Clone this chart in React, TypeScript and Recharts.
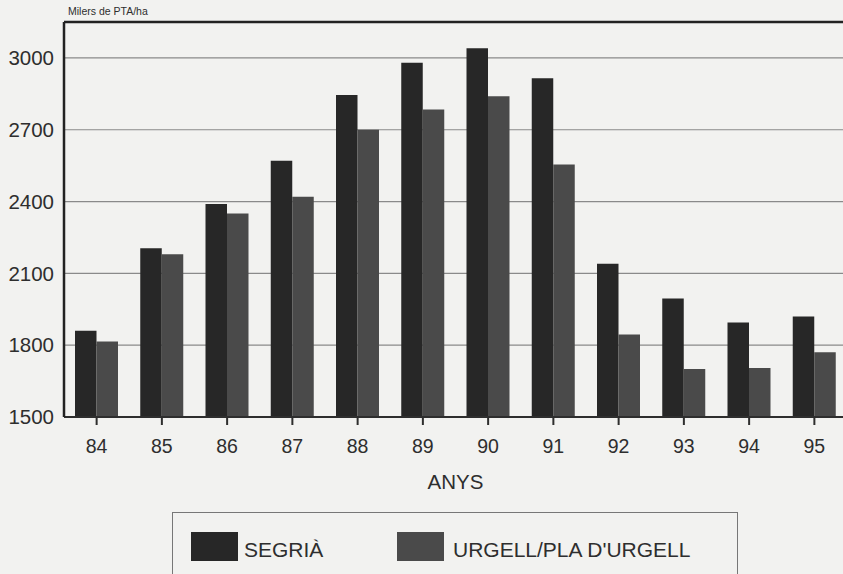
import React from "react";
import {
  BarChart,
  Bar,
  XAxis,
  YAxis,
  CartesianGrid,
  ReferenceLine,
} from "recharts";

// years (ANYS) and values in milers de PTA/ha
const years = ["84", "85", "86", "87", "88", "89", "90", "91", "92", "93", "94", "95"];
const segria = [1860, 2205, 2390, 2570, 2845, 2980, 3040, 2915, 2140, 1995, 1895, 1920];
const urgell = [1815, 2180, 2350, 2420, 2700, 2785, 2840, 2555, 1845, 1700, 1705, 1770];
const yTicks = [1500, 1800, 2100, 2400, 2700, 3000];

const data = years.map((year, i) => ({ year, segria: segria[i], urgell: urgell[i] }));

const FONT = '"Liberation Sans", Arial, Helvetica, sans-serif';
const DARK = "#272727";
const MID = "#4a4a4a";
const INK = "#2e2e2e";

export default function App() {
  return (
    <div
      style={{
        position: "absolute",
        left: 0,
        top: 0,
        width: 843,
        height: 574,
        overflow: "hidden",
        background: "#f2f2f0",
        fontFamily: FONT,
      }}
    >
      <BarChart
        width={850}
        height={574}
        data={data}
        margin={{ top: 22, right: 3, left: 0, bottom: 77 }}
        barGap={0}
        style={{ fontFamily: FONT }}
      >
        <CartesianGrid vertical={false} stroke="#8a8a8a" strokeWidth={1.2} />
        <XAxis
          dataKey="year"
          height={80}
          tickSize={8}
          tickMargin={14}
          tickLine={{ stroke: INK, strokeWidth: 2 }}
          axisLine={{ stroke: INK, strokeWidth: 2 }}
          tick={{ fill: INK, fontSize: 19.5 }}
          label={{ value: "ANYS", position: "insideBottom", offset: 8, fill: INK, fontSize: 20.5 }}
        />
        <YAxis
          width={64}
          domain={[1500, 3150]}
          ticks={yTicks}
          interval={0}
          tickSize={0}
          tickMargin={10}
          tickLine={false}
          axisLine={{ stroke: "#222", strokeWidth: 2.5 }}
          tick={{ fill: INK, fontSize: 20.5 }}
        />
        <ReferenceLine y={3150} stroke="#222" strokeWidth={2.5} />
        <Bar dataKey="segria" name="SEGRIÀ" fill={DARK} barSize={21.5} isAnimationActive={false} />
        <Bar dataKey="urgell" name="URGELL/PLA D'URGELL" fill={MID} barSize={21.5} isAnimationActive={false} />
      </BarChart>

      {/* unit label */}
      <div style={{ position: "absolute", left: 68, top: 6, fontSize: 10.5, lineHeight: 1, color: INK }}>
        Milers de PTA/ha
      </div>

      {/* legend box */}
      <div
        style={{
          position: "absolute",
          left: 172,
          top: 512,
          width: 566,
          height: 80,
          boxSizing: "border-box",
          border: "1.3px solid #777",
        }}
      />
      <div style={{ position: "absolute", left: 191, top: 532, width: 47, height: 29, background: DARK }} />
      <div style={{ position: "absolute", left: 244, top: 539, fontSize: 21, lineHeight: 1, color: INK }}>
        SEGRIÀ
      </div>
      <div style={{ position: "absolute", left: 397, top: 532, width: 47, height: 29, background: MID }} />
      <div style={{ position: "absolute", left: 453, top: 539, fontSize: 21, lineHeight: 1, color: INK }}>
        URGELL/PLA D'URGELL
      </div>
    </div>
  );
}
